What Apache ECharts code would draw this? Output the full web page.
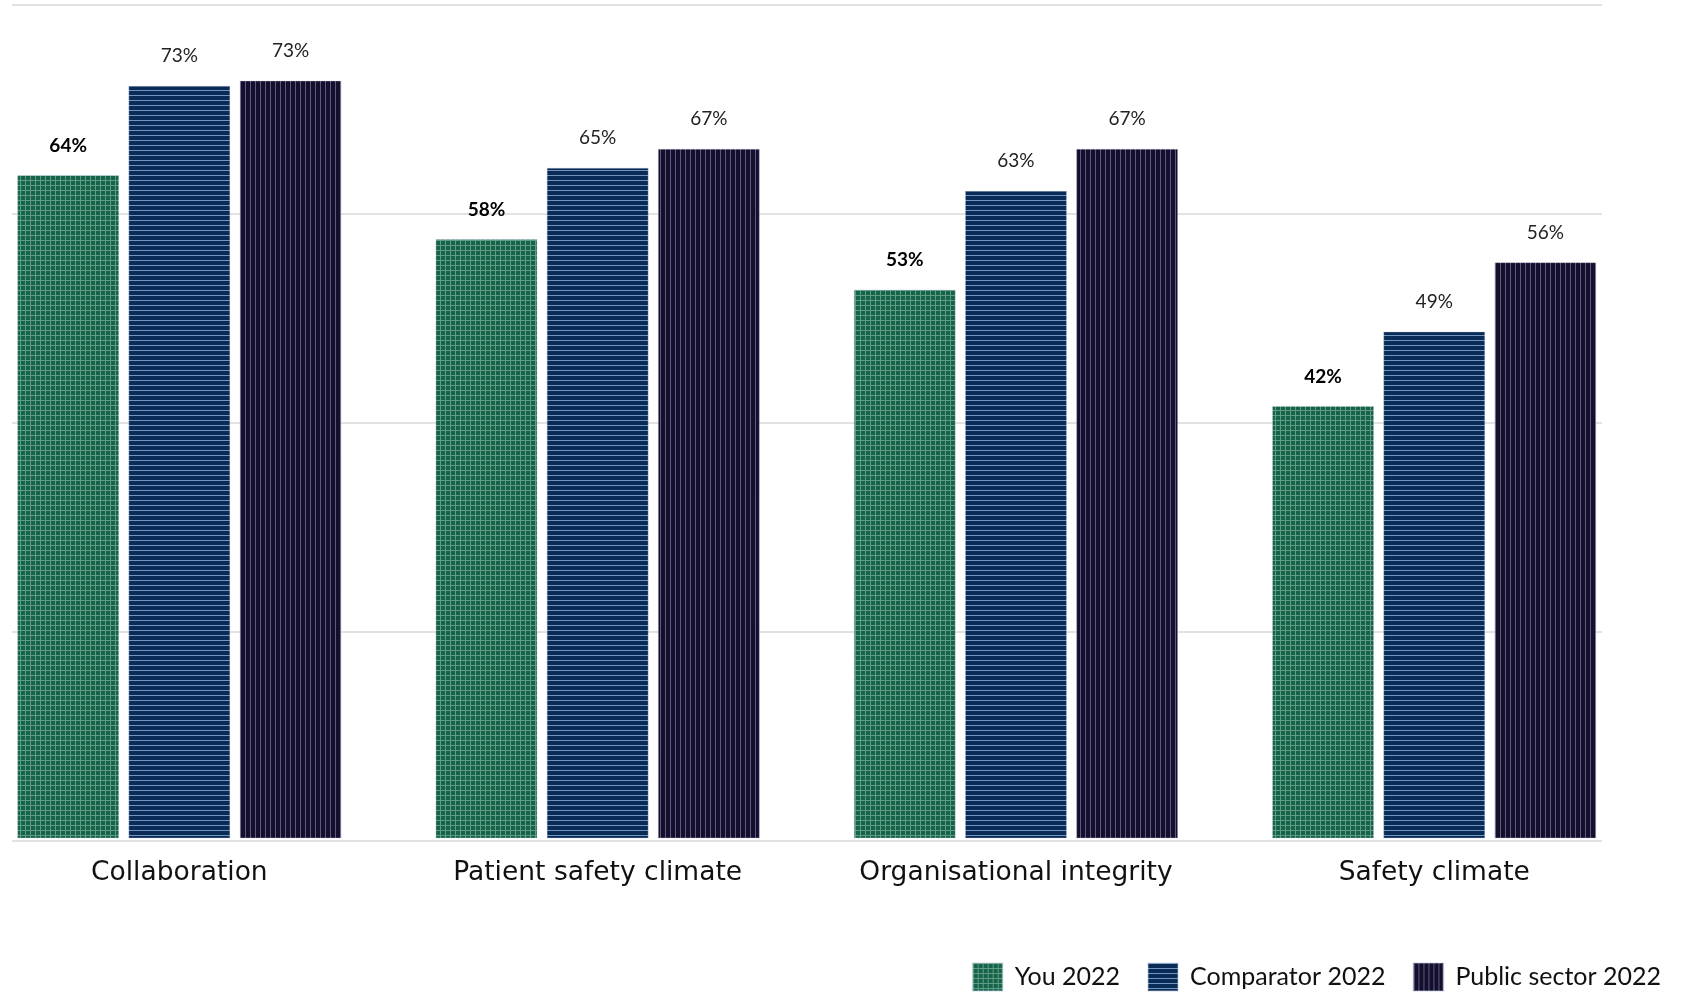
<!DOCTYPE html>
<html>
<head>
<meta charset="utf-8">
<script src="https://cdn.jsdelivr.net/npm/echarts@6/dist/echarts.min.js"></script>
<style>
html,body{margin:0;padding:0;background:#fff;}
#chart{width:1685px;height:993px;}
</style>
</head>
<body>
<div id="chart"></div>
<script>
const categories = ['Collaboration', 'Patient safety climate', 'Organisational integrity', 'Safety climate'];
const seriesNames = ['You 2022', 'Comparator 2022', 'Public sector 2022'];
const you2022 = [64, 57.9, 53.1, 42];
const comparator2022 = [72.5, 64.7, 62.5, 49.1];
const publicSector2022 = [73, 66.5, 66.5, 55.7];
const gridTicks = [0, 20, 40, 60, 80];

function makePattern(base, line, mode) {
  const c = document.createElement('canvas');
  c.width = 5; c.height = 5;
  const ctx = c.getContext('2d');
  ctx.fillStyle = base;
  ctx.fillRect(0, 0, 5, 5);
  ctx.fillStyle = line;
  if (mode === 'grid' || mode === 'h') ctx.fillRect(0, 0, 5, 1);
  if (mode === 'grid' || mode === 'v') ctx.fillRect(0, 0, 1, 5);
  return { image: c, repeat: 'repeat' };
}

const patGreen = makePattern('#15634a', '#5f9c82', 'grid');
const patBlue = makePattern('#0a2b55', '#6f95bf', 'h');
const patDark = makePattern('#140f2d', '#5e5a7e', 'v');

const FONT = 'Lato, "Noto Sans", sans-serif';
const CAT_FONT = '"DejaVu Sans", "Noto Sans", sans-serif';

function barSeries(name, data, pattern, bold) {
  return {
    name: name,
    type: 'bar',
    xAxisIndex: 0,
    yAxisIndex: 0,
    data: data,
    barWidth: 102,
    barGap: '9%',
    clip: true,
    itemStyle: { color: pattern, borderColor: 'rgba(190,200,220,0.35)', borderWidth: 1 },
    label: {
      show: true,
      position: 'top',
      distance: 20,
      formatter: p => Math.round(p.value) + '%',
      fontFamily: FONT,
      fontSize: 19,
      fontWeight: bold ? 'bold' : 'normal',
      color: bold ? '#000' : '#222'
    },
    emphasis: { disabled: true }
  };
}

const chart = echarts.init(document.getElementById('chart'), null, { renderer: 'canvas' });
chart.setOption({
  animation: false,
  backgroundColor: '#fff',
  grid: [
    { left: -29.8, right: 41.6, top: 7, bottom: 155, outerBoundsMode: 'none', containLabel: false },
    { left: 12, right: 83, top: 5, bottom: 152, outerBoundsMode: 'none', containLabel: false }
  ],
  xAxis: [
    {
      type: 'category', gridIndex: 0, data: categories,
      axisLine: { show: false }, axisTick: { show: false },
      axisLabel: { margin: 22, fontFamily: CAT_FONT, fontSize: 26.5, color: '#111' }
    },
    { type: 'category', gridIndex: 1, data: categories, show: false }
  ],
  yAxis: [
    { type: 'value', gridIndex: 0, min: 0.86, max: 80, show: false, splitLine: { show: false } },
    {
      type: 'value', gridIndex: 1, min: gridTicks[0], max: gridTicks[gridTicks.length - 1], interval: 20,
      axisLine: { show: false }, axisTick: { show: false }, axisLabel: { show: false },
      splitLine: { show: true, lineStyle: { color: '#e2e2e2', width: 2 } }
    }
  ],
  legend: {
    data: seriesNames,
    right: 19,
    top: 957,
    itemWidth: 30,
    itemHeight: 28,
    itemGap: 27,
    icon: 'rect',
    textStyle: { fontFamily: FONT, fontSize: 25, color: '#111', padding: [0, 0, 0, 7] }
  },
  series: [
    barSeries(seriesNames[0], you2022, patGreen, true),
    barSeries(seriesNames[1], comparator2022, patBlue, false),
    barSeries(seriesNames[2], publicSector2022, patDark, false)
  ]
});
</script>
</body>
</html>
